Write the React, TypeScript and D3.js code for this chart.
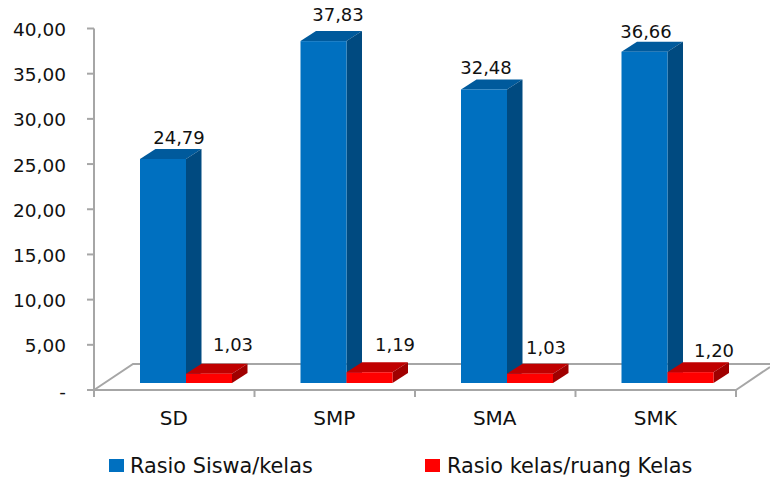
import React from "react";
import * as d3 from "d3";

const categories = ["SD", "SMP", "SMA", "SMK"];
const siswaKelas = [24.79, 37.83, 32.48, 36.66];
const kelasRuang = [1.03, 1.19, 1.03, 1.2];
const yTicks = [0, 5, 10, 15, 20, 25, 30, 35, 40];
const seriesNames = ["Rasio Siswa/kelas", "Rasio kelas/ruang Kelas"];
const blue = { front: "#0070C0", top: "#005A9C", side: "#004A80" };
const red = { front: "#FF0000", top: "#C00000", side: "#A00000" };
const grey = "#A6A6A6";
const font = "'DejaVu Sans', sans-serif";

const fmt = (v: number) => (v === 0 ? "-" : v.toFixed(2).replace(".", ","));

const yAxis = d3.scaleLinear().domain([0, 40]).range([390, 28.5]);
const barY = d3.scaleLinear().domain([0, 40]).range([383, 21.5]);
const x = d3.scaleBand<string>().domain(categories).range([94, 736]);
const dx = 15.5;
const dy = 10;
const barW = 46;
const blueOffset = 46;

function Bar({ x0, v, c }: { x0: number; v: number; c: typeof blue }) {
  const t = barY(v);
  const b = barY(0);
  const x1 = x0 + barW;
  return (
    <g>
      <polygon points={`${x0},${t} ${x0 + dx},${t - dy} ${x1 + dx},${t - dy} ${x1},${t}`} fill={c.top} />
      <polygon points={`${x1},${t} ${x1 + dx},${t - dy} ${x1 + dx},${b - dy} ${x1},${b}`} fill={c.side} />
      <rect x={x0} y={t} width={barW} height={b - t} fill={c.front} />
    </g>
  );
}

const blueLabelPos = [
  [179, 144],
  [338, 21],
  [486, 74],
  [646, 38],
];
const redLabelPos = [
  [233, 351],
  [395, 351],
  [546, 354],
  [714, 357],
];

export default function App() {
  const ticksX = [...categories.map((c) => x(c)!), 736];
  return (
    <svg
      width={770}
      height={479}
      style={{ position: "absolute", left: 0, top: 0, background: "#fff" }}
      fontFamily={font}
      fill="#111"
    >
      {/* floor */}
      <polyline points="94,390 133,364 770,364" fill="none" stroke={grey} strokeWidth={2} />
      <polyline points="736,390 770,367" fill="none" stroke={grey} strokeWidth={2} />
      {/* axes */}
      <line x1={94} x2={94} y1={yAxis(40)} y2={397} stroke={grey} strokeWidth={2} />
      <line x1={94} x2={736} y1={390} y2={390} stroke={grey} strokeWidth={2} />
      {yTicks.map((t) => (
        <g key={t}>
          <line x1={87} x2={94} y1={yAxis(t)} y2={yAxis(t)} stroke={grey} strokeWidth={2} />
          <text x={66} y={yAxis(t) + 7.5} textAnchor="end" fontSize={18.5}>
            {fmt(t)}
          </text>
        </g>
      ))}
      {ticksX.map((t) => (
        <line key={t} x1={t} x2={t} y1={390} y2={397} stroke={grey} strokeWidth={2} />
      ))}
      {categories.map((c) => (
        <text key={c} x={x(c)! + x.bandwidth() / 2 - 0.5} y={425} textAnchor="middle" fontSize={20}>
          {c}
        </text>
      ))}
      {/* bars */}
      {categories.map((c, i) => {
        const x0 = x(c)! + blueOffset;
        return (
          <g key={c}>
            <Bar x0={x0} v={siswaKelas[i]} c={blue} />
            <Bar x0={x0 + barW} v={kelasRuang[i]} c={red} />
          </g>
        );
      })}
      {/* labels */}
      {siswaKelas.map((v, i) => (
        <text key={i} x={blueLabelPos[i][0]} y={blueLabelPos[i][1]} textAnchor="middle" fontSize={18}>
          {fmt(v)}
        </text>
      ))}
      {kelasRuang.map((v, i) => (
        <text key={i} x={redLabelPos[i][0]} y={redLabelPos[i][1]} textAnchor="middle" fontSize={18}>
          {fmt(v)}
        </text>
      ))}
      {/* legend */}
      <rect x={109} y={459} width={15} height={13} fill={blue.front} />
      <text x={130} y={473} fontSize={20.8}>
        {seriesNames[0]}
      </text>
      <rect x={425} y={459} width={15} height={13} fill={red.front} />
      <text x={447} y={473} fontSize={20.8}>
        {seriesNames[1]}
      </text>
    </svg>
  );
}
